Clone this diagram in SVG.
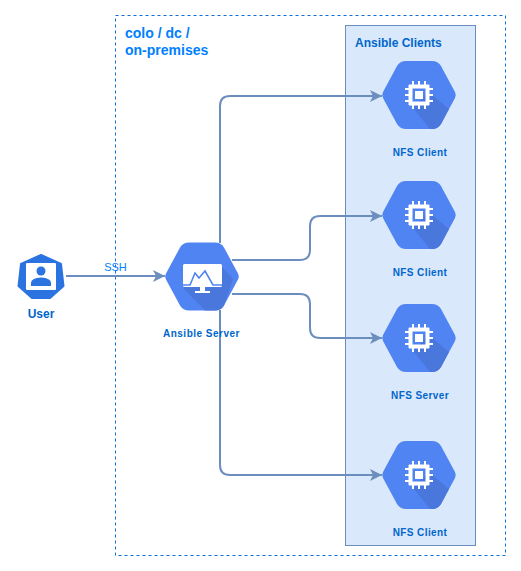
<svg xmlns="http://www.w3.org/2000/svg" width="521" height="571" viewBox="0 0 521 571">
<style>
text{font-family:"Liberation Sans",Arial,sans-serif;font-weight:bold;fill:#0066CC;text-anchor:middle}
.lbl{font-size:10px;letter-spacing:.4px}
.c{fill:none;stroke:#6C8EBF;stroke-width:2}
.hx{fill:#5184F3}
.sh{fill:#4A77DC}
.chip{fill:#fff}
</style>
<defs>
<marker id="ah" markerUnits="userSpaceOnUse" markerWidth="14" markerHeight="14" refX="12" refY="6.500" orient="auto"><path d="M0 .5L12 6.500L0 12.500L3 6.500Z" fill="#6C8EBF"/></marker>
<path id="hex" class="hx" d="M-13-34H13Q19-34 22-29L36-3Q37.500 0 36 3L22 29Q19 34 13 34H-13Q-19 34-22 29L-36 3Q-37.500 0-36-3L-22-29Q-19-34-13-34Z"/>
<g id="cpu">
<use href="#hex"/>
<path class="sh" d="M10-3L30 14L22 29Q19 34 13 34H11L-6 13Z"/>
<g class="chip"><path fill-rule="evenodd" d="M-9.500-10.500H9.500Q10.500-10.500 10.500-9.500V9.500Q10.500 10.500 9.500 10.500H-9.500Q-10.500 10.500-10.500 9.500V-9.500Q-10.500-10.500-9.500-10.500ZM-6.500-6.500V6.500H6.500V-6.500Z"/><rect x="-4" y="-4" width="8" height="8"/>
<path d="M-7-14h2v4h-2zM-1-14h2v4h-2zM5-14h2v4h-2zM-7 10h2v4h-2zM-1 10h2v4h-2zM5 10h2v4h-2zM-14-7h4v2h-4zM-14-1h4v2h-4zM-14 5h4v2h-4zM10-7h4v2h-4zM10-1h4v2h-4zM10 5h4v2h-4z"/></g>
</g>
</defs>
<rect id="colo" x="115.500" y="15.500" width="390" height="540" fill="none" stroke="#0A6FD8" stroke-dasharray="3 3"/>
<text x="125" y="38" style="font-size:14px;fill:#007FFF;text-anchor:start">colo / dc /</text>
<text x="125" y="55" style="font-size:14px;fill:#007FFF;text-anchor:start">on-premises</text>
<g id="clients"><rect x="345.500" y="25.500" width="130" height="520" fill="#DAE8FC" stroke="#6C8EBF"/>
<text x="355" y="47" style="font-size:12px;text-anchor:start">Ansible Clients</text></g>
<g id="connectors">
<path class="c" d="M66 276H165" marker-end="url(#ah)"/>
<path class="c" d="M220 243V106Q220 96 230 96H382" marker-end="url(#ah)"/>
<path class="c" d="M232 260H300Q310 260 310 250V226Q310 216 320 216H382" marker-end="url(#ah)"/>
<path class="c" d="M232 294H300Q310 294 310 304V328Q310 338 320 338H382" marker-end="url(#ah)"/>
<path class="c" d="M220 310V465Q220 475 230 475H382" marker-end="url(#ah)"/>
</g>
<text x="115.500" y="271" style="font-size:11px;font-weight:normal;fill:#007FFF">SSH</text>
<g id="user">
<path d="M41 255L61 264L63.500 286L50 298H32L18.500 286L21 264Z" fill="#2A73E0" stroke="#2A73E0" stroke-width="2" stroke-linejoin="round"/>
<rect x="26" y="263" width="30" height="27" rx="1" fill="#fff"/>
<circle cx="41" cy="271" r="4.500" fill="#2A73E0"/>
<path d="M31 286V283Q31 278 41 277.500Q51 278 51 283V286Z" fill="#2A73E0"/>
<text x="41" y="318" style="font-size:12px">User</text>
</g>
<g id="server">
<use href="#hex" x="202" y="276.500"/>
<path class="sh" d="M222 267L233 279L224 305.500Q221 310.500 215 310.500H205L183 288Z"/>
<rect x="183" y="264" width="39" height="23" rx="1.500" fill="#fff"/>
<path d="M183 285H190L195 273L199 278L205 271L213 285H222" fill="none" stroke="#5184F3" stroke-width="1.600"/>
<rect x="200" y="287" width="5" height="5" fill="#fff"/><rect x="195" y="291" width="15" height="2" fill="#fff"/>
<text class="lbl" x="201.500" y="337" style="letter-spacing:.5px">Ansible Server</text>
</g>
<g id="client1"><use href="#cpu" x="419" y="95"/><text class="lbl" x="420" y="156">NFS Client</text></g>
<g id="client2"><use href="#cpu" x="419" y="215"/><text class="lbl" x="420" y="276">NFS Client</text></g>
<g id="nfsserver"><use href="#cpu" x="419" y="338"/><text class="lbl" x="420" y="399">NFS Server</text></g>
<g id="client3"><use href="#cpu" x="419" y="475"/><text class="lbl" x="420" y="536">NFS Client</text></g>
</svg>
